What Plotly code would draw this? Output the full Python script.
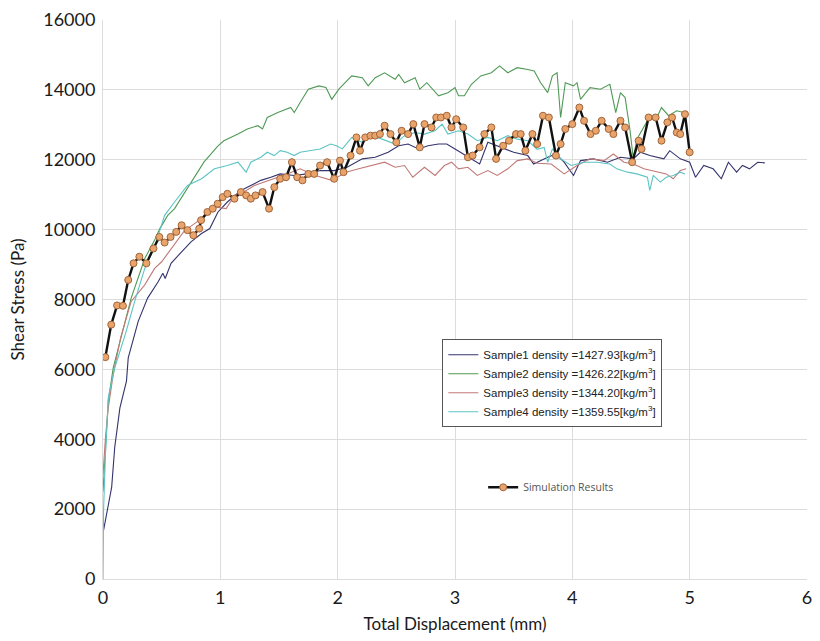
import plotly.graph_objects as go

# ---------------- data ----------------
s1_x = [0.005,0.045,0.074,0.10,0.144,0.20,0.215,0.30,0.38,0.47,0.51,0.53,0.58,0.67,0.75,0.84,0.91,0.98,1.06,1.175,1.26,1.345,1.43,1.51,1.63,1.74,1.85,1.97,2.08,2.21,2.32,2.43,2.52,2.60,2.69,2.77,2.86,2.93,3.0,3.10,3.21,3.28,3.39,3.50,3.62,3.67,3.79,3.86,3.93,4.01,4.07,4.18,4.30,4.41,4.52,4.58,4.66,4.78,4.83,4.92,5.0,5.05,5.12,5.20,5.27,5.33,5.40,5.45,5.51,5.58,5.64]
s1_y = [1400,2060,2630,3770,4900,5665,6330,7375,8040,8510,8750,8600,9035,9365,9650,9890,10030,10505,10790,11120,11265,11410,11500,11595,11550,11595,11690,11690,11785,12025,12070,12215,12400,12450,12310,12400,12450,12450,12310,12100,11880,12500,12355,12215,12120,11880,12070,12165,11930,11550,11975,12025,11930,12070,12025,12215,12120,12025,12260,12025,11930,11500,11835,11740,11455,11930,11645,11835,11740,11930,11910]

s2_x = [0,0.02,0.045,0.087,0.16,0.24,0.356,0.44,0.48,0.55,0.61,0.72,0.86,0.98,1.03,1.15,1.23,1.32,1.36,1.40,1.49,1.60,1.63,1.68,1.75,1.84,1.90,1.95,2.01,2.12,2.21,2.26,2.32,2.40,2.49,2.52,2.57,2.66,2.70,2.76,2.86,2.94,3.00,3.03,3.08,3.14,3.22,3.31,3.38,3.45,3.53,3.62,3.675,3.73,3.79,3.83,3.87,3.90,3.94,4.01,4.04,4.07,4.15,4.24,4.32,4.37,4.41,4.45,4.49,4.52,4.55,4.64,4.72,4.76,4.82,4.89,4.95]
s2_y = [2500,3800,5096,6045,7000,8040,9175,9700,10000,10400,10600,11170,11930,12400,12545,12735,12880,12975,12880,13210,13350,13495,13350,13640,14020,14115,14070,13730,14020,14400,14350,14115,14350,14490,14305,14445,14205,14350,14020,14205,13830,13920,14065,13830,13830,14160,14400,14490,14685,14490,14635,14585,14540,14205,13920,14400,14490,13210,14205,14115,14205,13730,14065,14020,14160,13350,13920,13780,12880,12025,12590,13115,13210,13495,13260,13400,13350]

s3_x = [0,0.02,0.045,0.087,0.15,0.24,0.356,0.44,0.50,0.58,0.69,0.75,0.84,0.92,0.95,1.05,1.12,1.20,1.29,1.37,1.46,1.57,1.68,1.81,1.95,2.07,2.18,2.29,2.40,2.49,2.57,2.64,2.74,2.83,2.91,2.97,3.03,3.11,3.19,3.28,3.36,3.45,3.53,3.62,3.70,3.82,3.93,4.04,4.15,4.27,4.35,4.44,4.52,4.61,4.72,4.80,4.86,4.92,4.97]
s3_y = [3000,4000,4900,5855,6900,7945,8420,8890,9080,9460,9950,10100,10315,10505,10650,10600,10980,11075,11265,11360,11455,11595,11740,11550,11410,11645,11740,11835,11930,11785,11835,11500,11785,11550,11835,11930,11740,11785,11550,11690,11550,11740,11975,12025,11900,11880,11595,11835,12025,11975,12165,11930,11880,11740,11645,11595,11455,11690,11740]

s4_x = [0,0.005,0.02,0.045,0.10,0.19,0.27,0.356,0.44,0.525,0.61,0.72,0.84,0.95,1.06,1.15,1.22,1.26,1.345,1.40,1.46,1.51,1.57,1.63,1.68,1.77,1.85,1.94,1.99,2.04,2.12,2.21,2.29,2.38,2.49,2.57,2.66,2.74,2.83,2.89,2.94,3.03,3.11,3.19,3.28,3.36,3.45,3.53,3.62,3.70,3.76,3.79,3.83,3.90,3.99,4.10,4.21,4.32,4.38,4.47,4.55,4.64,4.66,4.69,4.75,4.80,4.86,4.92,4.96]
s4_y = [0,2000,3500,5190,6045,7000,7945,8890,9500,10410,10790,11265,11455,11740,11835,11930,11645,11930,12070,12215,12120,12260,12215,12120,12215,12260,12310,12450,12400,12310,12640,12500,12690,12590,12450,12690,12780,12735,12830,13020,12735,12830,12735,12545,12640,12545,12690,12590,12545,12300,12355,11930,12310,12025,11835,11930,11930,11880,11740,11645,11595,11500,11120,11550,11360,11500,11550,11645,11595]

sim_x = [0.02,0.07,0.12,0.17,0.215,0.26,0.31,0.37,0.43,0.48,0.525,0.576,0.624,0.67,0.72,0.77,0.82,0.836,0.89,0.935,0.977,1.02,1.06,1.12,1.175,1.22,1.26,1.30,1.36,1.415,1.46,1.51,1.56,1.61,1.655,1.70,1.75,1.80,1.85,1.91,1.97,2.02,2.05,2.11,2.16,2.19,2.235,2.28,2.32,2.36,2.40,2.45,2.50,2.545,2.60,2.645,2.70,2.74,2.80,2.84,2.88,2.93,2.97,3.01,3.07,3.11,3.15,3.21,3.25,3.31,3.35,3.41,3.46,3.52,3.56,3.60,3.66,3.70,3.75,3.80,3.86,3.90,3.94,4.00,4.06,4.10,4.155,4.20,4.25,4.31,4.35,4.41,4.45,4.51,4.565,4.59,4.65,4.71,4.76,4.81,4.85,4.89,4.92,4.96,5.00]
sim_y = [6350,7280,7830,7820,8560,9035,9225,9035,9460,9790,9630,9790,9935,10125,9985,9840,10030,10270,10505,10600,10740,10930,11025,10885,11075,10980,10885,10980,11075,10600,11215,11455,11500,11930,11500,11410,11595,11595,11835,11930,11455,11975,11645,12120,12640,12260,12640,12690,12690,12735,12975,12735,12500,12830,12735,13020,12355,13020,12925,13210,13210,13260,12925,13160,12925,12070,12120,12355,12735,12925,12025,12400,12545,12735,12735,12260,12735,12450,13260,13210,12120,12450,12880,13020,13495,13115,12735,12830,13115,12880,12735,13115,12925,11930,12545,12310,13210,13210,12545,13070,13210,12780,12735,13305,12215]

sample_names = [
    "Sample1 density =1427.93[kg/m<sup>3</sup>]",
    "Sample2 density =1426.22[kg/m<sup>3</sup>]",
    "Sample3 density =1344.20[kg/m<sup>3</sup>]",
    "Sample4 density =1359.55[kg/m<sup>3</sup>]",
]
sample_colors = ["#33336e", "#4f9a55", "#c07a78", "#5cc4c4"]
x_ticks = [0, 1, 2, 3, 4, 5, 6]
x_tick_labels = ["0", "1", "2", "3", "4", "5", "6"]
y_ticks = [0, 2000, 4000, 6000, 8000, 10000, 12000, 14000, 16000]
y_tick_labels = ["0", "2000", "4000", "6000", "8000", "10000", "12000", "14000", "16000"]


def pair(xs, ys):
    n = min(len(xs), len(ys))
    return xs[:n], ys[:n]


fig = go.Figure()
for (xs, ys), name, col in zip(
    [pair(s1_x, s1_y), pair(s2_x, s2_y), pair(s3_x, s3_y), pair(s4_x, s4_y)],
    sample_names, sample_colors):
    fig.add_trace(go.Scatter(x=xs, y=ys, mode="lines", name=name,
                             line=dict(color=col, width=1.1), legend="legend"))

sx, sy = pair(sim_x, sim_y)
fig.add_trace(go.Scatter(
    x=sx, y=sy, mode="lines+markers", name="Simulation Results",
    line=dict(color="#111111", width=2.4),
    marker=dict(symbol="circle", size=7, color="#e9a46c",
                line=dict(color="#a0643a", width=1)),
    legend="legend2"))

axis_font = dict(family="Lato, 'Open Sans', sans-serif", size=18, color="#1a1a1a")
fig.update_layout(
    width=820, height=641,
    margin=dict(l=103, r=8, t=17, b=62),
    paper_bgcolor="white", plot_bgcolor="white",
    font=dict(family="Lato, sans-serif", color="#1a1a1a"),
    xaxis=dict(range=[0, 6], tickmode="array", tickvals=x_ticks, ticktext=x_tick_labels,
               showgrid=True, gridcolor="#dcdcdc",
               gridwidth=1, zeroline=False, showline=True, linecolor="#dcdcdc",
               tickfont=axis_font, ticks="", ticklabelstandoff=2,
               title=dict(text="Total Displacement (mm)",
                          font=dict(family="Lato, sans-serif", size=17, color="#1a1a1a"),
                          standoff=11)),
    yaxis=dict(range=[0, 16000], tickmode="array", tickvals=y_ticks, ticktext=y_tick_labels,
               showgrid=True, gridcolor="#dcdcdc",
               gridwidth=1, zeroline=False, showline=True, linecolor="#dcdcdc",
               tickfont=axis_font, ticks="", ticklabelstandoff=3,
               title=dict(text="Shear Stress (Pa)",
                          font=dict(family="Lato, sans-serif", size=17, color="#1a1a1a"),
                          standoff=14)),
    legend=dict(x=0.482, y=0.429, xanchor="left", yanchor="top",
                bgcolor="white", bordercolor="#555555", borderwidth=1,
                font=dict(family="Arial, 'Liberation Sans', sans-serif", size=11.5, color="#222222"),
                itemwidth=30, tracegroupgap=0),
    legend2=dict(x=0.54, y=0.19, xanchor="left", yanchor="top",
                 bgcolor="rgba(0,0,0,0)", borderwidth=0,
                 font=dict(family="'Open Sans', sans-serif", size=10.5, color="#555555"),
                 itemwidth=30),
)

fig.write_html("out.html")
